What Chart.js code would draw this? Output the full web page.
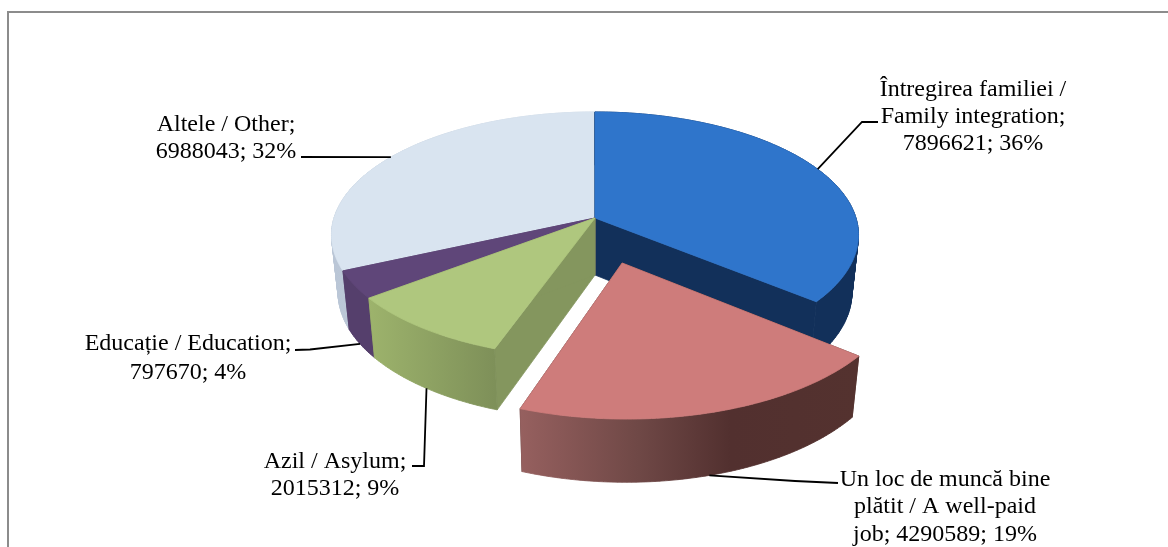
<!DOCTYPE html>
<html>
<head>
<meta charset="utf-8">
<title>Pie chart</title>
<style>
  html, body { margin: 0; padding: 0; background: #fff; overflow: hidden; }
  #wrap { position: relative; width: 1168px; height: 547px; }
  #frame { position: absolute; left: 7px; top: 11px; width: 1170px; height: 600px; border: 2px solid #8c8c8c; box-sizing: border-box; }
  canvas { position: absolute; left: 0; top: 0; }
</style>
<script src="https://cdn.jsdelivr.net/npm/chart.js@4"></script>
</head>
<body>
<div id="wrap">
  <div id="frame"></div>
  <canvas id="pie-chart" width="1168" height="547"></canvas>
</div>
<script>
  'use strict';

  // Data
  const categories = ['Întregirea familiei / Family integration', 'Un loc de muncă bine plătit / A well-paid job', 'Azil / Asylum', 'Educație / Education', 'Altele / Other'];
  const values = [7896621, 4290589, 2015312, 797670, 6988043];
  const labelLines = [
    ['Întregirea familiei /', 'Family integration;', '7896621; 36%'],
    ['Un loc de muncă bine', 'plătit / A well-paid', 'job; 4290589; 19%'],
    ['Azil / Asylum;', '2015312; 9%'],
    ['Educație / Education;', '797670; 4%'],
    ['Altele / Other;', '6988043; 32%']
  ];

  // Slice styling
  const topColors = ['#2F75CB', '#CE7C7B', '#AFC77E', '#5F4679', '#D9E4F0'];
  const faceColors = ['#12305A', '#54322F', '#84965E', '#553F6C', '#BAC6D6'];
  const wallStops = [
    [[0, '#12305A'], [1, '#12305A']],
    [[0, '#96605F'], [0.35, '#6F4846'], [0.62, '#52302F'], [1, '#54322F']],
    [[0, '#9DB36C'], [1, '#7E9059']],
    [[0, '#553F6C'], [1, '#553F6C']],
    [[0, '#BAC6D6'], [1, '#D0D9E5']]
  ];
  const explode = [0, 0.368, 0, 0, 0];

  // Tilted view of the pie
  const view = { rx: 261, ry: 120.7, persp: 0.138, depth: 57, baseShrink: 0.975 };

  // Label text centres and the leader bends after the rim anchor
  const labelCenters = [[973, [90, 117, 144]], [945, [480, 507, 535]], [335, [462, 489]], [188, [344, 373]], [226, [125, 152]]];
  const leaderBends = [
    [[862, 122], [878, 122]],
    [[795, 481], [838, 483]],
    [[424, 466], [412, 466]],
    [[310, 349.5], [295, 350]],
    [[301, 157]]
  ];
  const anchorOnBase = [false, true, true, true, false];
  const drawOrder = [4, 0, 3, 2, 1];

  function project(arc, ux, uy, base) {
    const w = 1 - view.persp * uy;
    const shrink = base ? view.baseShrink : 1;
    return {
      x: arc.x + shrink * view.rx * ux / w,
      y: arc.y + view.ry * uy / w + (base ? view.depth / Math.sqrt(w) : 0)
    };
  }

  function rimPoints(arc, i, base) {
    const shift = sliceShift(arc, i);
    const pts = [];
    const steps = Math.max(2, Math.ceil((arc.endAngle - arc.startAngle) / 0.015));
    for (let s = 0; s <= steps; s++) {
      const a = arc.startAngle + (arc.endAngle - arc.startAngle) * s / steps;
      pts.push(project(arc, Math.cos(a) + shift.x, Math.sin(a) + shift.y, base));
    }
    return pts;
  }

  function sliceShift(arc, i) {
    const mid = (arc.startAngle + arc.endAngle) / 2;
    return { x: Math.cos(mid) * explode[i], y: Math.sin(mid) * explode[i] };
  }

  function fillPoly(ctx, pts, fill) {
    ctx.beginPath();
    pts.forEach((p, n) => (n ? ctx.lineTo(p.x, p.y) : ctx.moveTo(p.x, p.y)));
    ctx.closePath();
    ctx.fillStyle = fill;
    ctx.fill();
    ctx.strokeStyle = fill;
    ctx.lineWidth = 0.8;
    ctx.stroke();
  }

  function signedArea(pts) {
    let sum = 0;
    pts.forEach((p, n) => {
      const q = pts[(n + 1) % pts.length];
      sum += p.x * q.y - q.x * p.y;
    });
    return sum;
  }

  // All quads go in one path with the same winding, so no seams show between them
  function fillStrip(ctx, top, bottom, fill) {
    ctx.beginPath();
    for (let k = 0; k < top.length - 1; k++) {
      const quad = [top[k], top[k + 1], bottom[k + 1], bottom[k]];
      if (signedArea(quad) < 0) quad.reverse();
      quad.forEach((p, n) => (n ? ctx.lineTo(p.x, p.y) : ctx.moveTo(p.x, p.y)));
      ctx.closePath();
    }
    ctx.fillStyle = fill;
    ctx.fill();
    ctx.strokeStyle = fill;
    ctx.lineWidth = 0.8;
    ctx.stroke();
  }

  function drawSlice(ctx, arc, i) {
    const shift = sliceShift(arc, i);
    const top = rimPoints(arc, i, false);
    const bottom = rimPoints(arc, i, true);
    const tip = project(arc, shift.x, shift.y, false);
    const tipBase = project(arc, shift.x, shift.y, true);
    const last = top.length - 1;

    // radial faces
    fillPoly(ctx, [tip, top[0], bottom[0], tipBase], faceColors[i]);
    fillPoly(ctx, [tip, top[last], bottom[last], tipBase], faceColors[i]);

    // outer wall, shaded from left to right
    const xs = top.map(p => p.x);
    const grad = ctx.createLinearGradient(Math.min(...xs), 0, Math.max(...xs), 0);
    wallStops[i].forEach(s => grad.addColorStop(s[0], s[1]));
    fillStrip(ctx, top, bottom, grad);

    // top surface
    fillPoly(ctx, [tip].concat(top), topColors[i]);
  }

  function drawLabel(ctx, arc, i) {
    const shift = sliceShift(arc, i);
    const mid = (arc.startAngle + arc.endAngle) / 2;
    const start = project(arc, Math.cos(mid) + shift.x, Math.sin(mid) + shift.y, anchorOnBase[i]);

    ctx.beginPath();
    ctx.moveTo(start.x, start.y);
    leaderBends[i].forEach(p => ctx.lineTo(p[0], p[1]));
    ctx.strokeStyle = '#000';
    ctx.lineWidth = 1.8;
    ctx.stroke();

    ctx.fillStyle = '#000';
    ctx.font = '24px "Liberation Serif"';
    ctx.textAlign = 'center';
    ctx.textBaseline = 'middle';
    labelLines[i].forEach((line, n) => {
      ctx.fillText(line, labelCenters[i][0], labelCenters[i][1][n]);
    });
  }

  // The pie controller works out the slice angles, this plugin paints them tilted
  const tiltedPie = {
    id: 'tiltedPie',
    beforeDatasetsDraw: function (chart) {
      const ctx = chart.ctx;
      const arcs = chart.getDatasetMeta(0).data;
      ctx.save();
      drawOrder.forEach(i => drawSlice(ctx, arcs[i], i));
      arcs.forEach((arc, i) => drawLabel(ctx, arc, i));
      ctx.restore();
      return false;
    }
  };

  new Chart(document.getElementById('pie-chart'), {
    type: 'pie',
    data: {
      labels: categories,
      datasets: [{ data: values, backgroundColor: topColors, borderWidth: 0 }]
    },
    options: {
      responsive: false,
      animation: false,
      events: [],
      layout: { padding: { left: 22, right: 0, top: 0, bottom: 111 } },
      plugins: { legend: { display: false }, tooltip: { enabled: false }, title: { display: false } }
    },
    plugins: [tiltedPie]
  });
</script>
</body>
</html>
